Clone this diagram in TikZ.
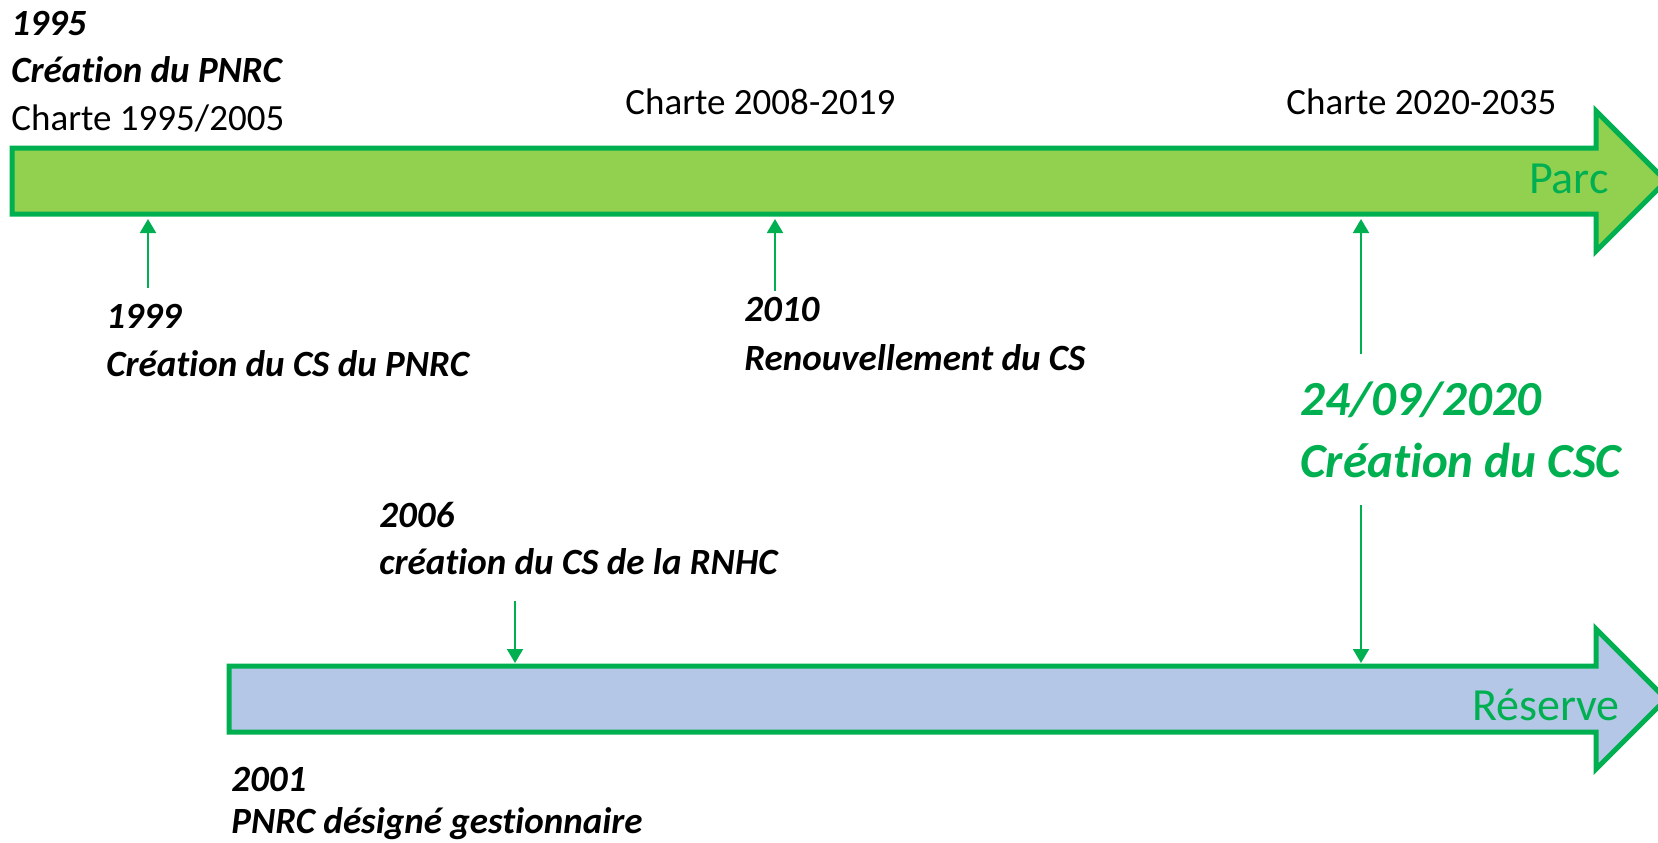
\documentclass[tikz,border=0pt]{standalone}
\usepackage{fontspec}
\setmainfont{Carlito}[Ligatures={NoCommon}]
\usetikzlibrary{arrows.meta}
\definecolor{vert}{HTML}{00B050}
\definecolor{vertclair}{HTML}{92D050}
\definecolor{bleuclair}{HTML}{B4C7E7}
\tikzset{
  fleche/.style={draw=vert, line width=2.5pt, line join=miter},
  evt/.style={draw=vert, line width=1pt, -{Triangle[width=8pt,length=7pt]}},
  txt/.style={anchor=base west, inner sep=0pt, font=\fontsize{18.5}{22}\selectfont},
  txtbi/.style={txt, font=\fontsize{18.5}{22}\selectfont\bfseries\itshape},
  csc/.style={anchor=base west, inner sep=0pt, text=vert, font=\fontsize{24.5}{29}\selectfont\bfseries\itshape},
  nom/.style={anchor=base east, inner sep=0pt, text=vert, font=\fontsize{23}{27}\selectfont}
}
\begin{document}
\begin{tikzpicture}[x=0.5pt,y=-0.5pt]
\useasboundingbox (0,0) rectangle (1658,842);
% parc
\draw[fleche, fill=vertclair] (12,148)--(1596,148)--(1596,111)--(1666,181)--(1596,251)--(1596,214)--(12,214)--cycle;
% reserve
\draw[fleche, fill=bleuclair] (229,666)--(1596,666)--(1596,629)--(1666,699)--(1596,769)--(1596,732)--(229,732)--cycle;
\node[nom] (parc) at (1609,193) {Parc};
\node[nom] (reserve) at (1620,720) {Réserve};

% textes du haut
\node[txtbi] (t1995) at (11,35) {1995};
\node[txtbi] (t1995b) at (11,82) {Création du PNRC};
\node[txt] (ch1) at (11,130) {Charte 1995/2005};
\node[txt] (ch2) at (625,114) {Charte 2008-2019};
\node[txt] (ch3) at (1286,114) {Charte 2020-2035};

% evenements
\node[txtbi] (t1999) at (106,328) {1999};
\node[txtbi] (t1999b) at (106,376) {Création du CS du PNRC};
\node[txtbi] (t2010) at (744,321) {2010};
\node[txtbi] (t2010b) at (744,370) {Renouvellement du CS};
\node[csc] (tcsc) at (1300,415) {24/09/2020};
\node[csc] (tcscb) at (1300,477) {Création du CSC};
\node[txtbi] (t2006) at (379,527) {2006};
\node[txtbi] (t2006b) at (379,574) {création du CS de la RNHC};
\node[txtbi] (t2001) at (231,791) {2001};
\node[txtbi] (t2001b) at (231,833) {PNRC désigné gestionnaire};

\coordinate (d1999) at (148,288);
\coordinate (p1999) at (148,219);
\coordinate (d2010) at (775,291);
\coordinate (p2010) at (775,219);
\coordinate (dcsch) at (1361,354);
\coordinate (pcsc) at (1361,219);
\coordinate (dcscb) at (1361,505);
\coordinate (rcsc) at (1361,663);
\coordinate (d2006) at (515,601);
\coordinate (r2006) at (515,663);
\draw[evt] (d1999)--(p1999);
\draw[evt] (d2010)--(p2010);
\draw[evt] (dcsch)--(pcsc);
\draw[evt] (dcscb)--(rcsc);
\draw[evt] (d2006)--(r2006);
\end{tikzpicture}
\end{document}
